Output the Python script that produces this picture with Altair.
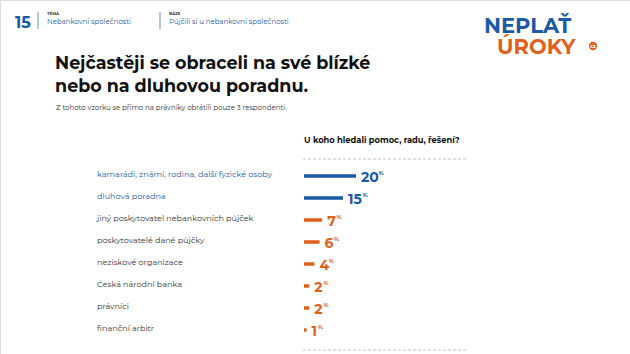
import altair as alt
import pandas as pd

categories = [
    "kamarádi, známí, rodina, další fyzické osoby",
    "dluhová poradna",
    "jiný poskytovatel nebankovních půjček",
    "poskytovatelé dané půjčky",
    "neziskové organizace",
    "Česká národní banka",
    "právníci",
    "finanční arbitr",
]
values = [20, 15, 7, 6, 4, 2, 2, 1]
groups = ["hl", "hl", "ot", "ot", "ot", "ot", "ot", "ot"]

BLUE = "#1b5aa4"
ORANGE = "#e0611d"
DARK = "#333333"
FONT = "Montserrat, Inter, sans-serif"

df = pd.DataFrame({"cat": categories, "v": values, "grp": groups})

PX_PER_UNIT = 2.6

y_enc = alt.Y("cat:N", sort=categories, axis=None,
              scale=alt.Scale(type="point", domain=categories, range=[176, 330], padding=0))
x_scale = alt.Scale(domain=[0, 20], range=[304, 356], zero=True)
color_enc = alt.Color("grp:N", legend=None,
                      scale=alt.Scale(domain=["hl", "ot"], range=[BLUE, ORANGE]))

base = alt.Chart(df)

bars = base.mark_bar(size=3.5).encode(
    x=alt.X("v:Q", scale=x_scale, axis=None),
    y=y_enc,
    color=color_enc,
)

nums = base.mark_text(align="left", baseline="middle", dx=5, dy=2,
                      font=FONT, fontWeight="bold", fontSize=14).encode(
    x=alt.X("v:Q", scale=x_scale, axis=None),
    y=y_enc,
    text=alt.Text("v:Q"),
    color=color_enc,
)

pcts = base.transform_calculate(
    s="toString(datum.v)",
).transform_calculate(
    ones="length(datum.s) - length(replace(datum.s, regexp('1', 'g'), ''))",
).transform_calculate(
    px="datum.v + (length(datum.s) * 8.3 - datum.ones * 3 + 6) / " + str(PX_PER_UNIT)
).mark_text(align="left", baseline="middle", dy=-3,
            font=FONT, fontWeight="bold", fontSize=6).encode(
    x=alt.X("px:Q", scale=x_scale, axis=None),
    y=y_enc,
    text=alt.value("%"),
    color=color_enc,
)

bar_layers = alt.layer(bars, nums, pcts)

labels = base.transform_calculate(lg="datum.grp").mark_text(
    align="left", baseline="middle", dy=-1, font=FONT, fontSize=8.1).encode(
    x=alt.value(97),
    y=y_enc,
    text="cat:N",
    color=alt.Color("lg:N", legend=None,
                    scale=alt.Scale(domain=["hl", "ot"], range=[BLUE, DARK])),
)

one = pd.DataFrame({"a": [0]})


def txt(s, x, y, size, color=DARK, weight="normal", align="left", baseline="alphabetic"):
    return alt.Chart(one).mark_text(
        text=s, align=align, baseline=baseline, font=FONT,
        fontSize=size, fontWeight=weight, color=color
    ).encode(x=alt.value(x), y=alt.value(y))


def rule(x1, x2, y1, y2, color="#bbbbbb", width=1, dash=None):
    kw = dict(color=color, strokeWidth=width)
    if dash:
        kw["strokeDash"] = dash
    return alt.Chart(one).mark_rule(**kw).encode(
        x=alt.value(x1), x2=alt.value(x2), y=alt.value(y1), y2=alt.value(y2))


dot = alt.Chart(one).mark_point(filled=True, shape="circle", size=70, color=ORANGE,
                                opacity=1).encode(x=alt.value(593), y=alt.value(46))

deco = [
    txt("15", 15, 28, 16, BLUE, "bold"),
    rule(38, 38, 12, 29, "#6b8fc4", 1),
    txt("TÉMA", 47, 15, 4, DARK, "bold"),
    txt("Nebankovní společnosti", 47, 24, 7, BLUE),
    rule(160, 160, 12, 29, "#6b8fc4", 1),
    txt("BÁZE", 169, 15, 4, DARK, "bold"),
    txt("Půjčili si u nebankovní společnosti", 169, 24, 7, BLUE),
    txt("NEPLAŤ", 484, 33, 21, BLUE, "bold"),
    txt("ÚROKY", 497, 54, 21, ORANGE, "bold"),
    dot,
    txt("cz", 593, 48, 5, "white", "bold", align="center"),
    txt("Nejčastěji se obraceli na své blízké", 55, 69, 17.5, "#111111", "bold"),
    txt("nebo na dluhovou poradnu.", 55, 92, 17.5, "#111111", "bold"),
    txt("Z tohoto vzorku se přímo na právníky obrátili pouze 3 respondenti.", 56, 110, 7, DARK),
    txt("U koho hledali pomoc, radu, řešení?", 304, 143, 8.3, "#111111", "bold"),
    rule(303, 467, 159, 159, "#c4c4c4", 1, [3, 2]),
    rule(303, 467, 350, 350, "#c4c4c4", 1, [3, 2]),
]

chart = alt.layer(bar_layers, labels, *deco).resolve_scale(color="independent").properties(
    width=630, height=354,
    autosize=alt.AutoSizeParams(type="none"),
    padding=0,
).configure_view(stroke=None).configure(background="white")

chart.save("out.html", embed_options={"renderer": "svg", "actions": False})
